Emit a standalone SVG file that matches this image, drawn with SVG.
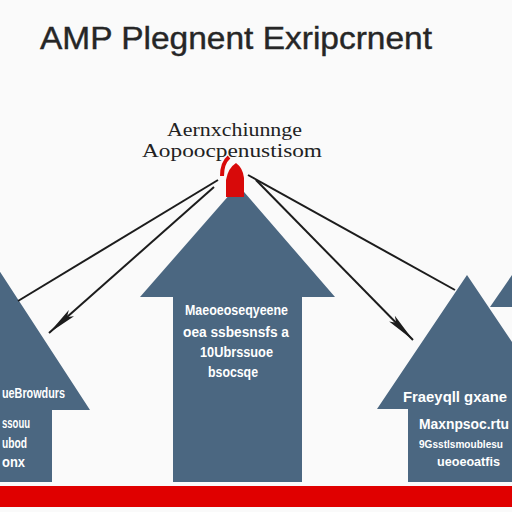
<svg xmlns="http://www.w3.org/2000/svg" width="512" height="512" viewBox="0 0 512 512">
<defs>
<style>
.house{fill:#4b6781}
.ht{fill:#ffffff;font-family:"Liberation Sans",Arial,sans-serif;font-weight:bold;font-size:14px}
.lbl{fill:#222222;font-family:"Liberation Serif","Times New Roman",serif;font-size:19px}
.title{fill:#262626;stroke:#262626;stroke-width:0.4;font-family:"Liberation Sans",Arial,sans-serif;font-size:31px}
.conn{stroke:#1c1c1c;stroke-width:2;fill:none}
</style>
<marker id="dart" viewBox="0 0 30 10" refX="30" refY="5" markerWidth="30" markerHeight="10" markerUnits="userSpaceOnUse" orient="auto">
<path d="M0,1 L6,5 L0,9 L30,5 Z" fill="#1c1c1c"/>
</marker>
</defs>
<rect width="512" height="512" fill="#fafafa"/>
<text class="title" x="40" y="49" textLength="392" lengthAdjust="spacingAndGlyphs">AMP Plegnent Exripcrnent</text>
<g id="label-top">
<text class="lbl" x="167" y="136" textLength="135" lengthAdjust="spacingAndGlyphs">Aernxchiunnge</text>
<text class="lbl" x="142" y="157" textLength="180" lengthAdjust="spacingAndGlyphs">Aopoocpenustisom</text>
</g>
<g id="house-far-right">
<polygon class="house" points="490,307 512,275 512,307"/>
</g>
<g id="house-left">
<polygon class="house" points="-90,410 -5,264 90,410 52,410 52,482 -60,482 -60,410"/>
<text class="ht" x="2" y="398" textLength="63" lengthAdjust="spacingAndGlyphs">ueBrowdurs</text>
<text class="ht" x="2" y="428" textLength="28" lengthAdjust="spacingAndGlyphs">ssouu</text>
<text class="ht" x="2" y="448" textLength="25" lengthAdjust="spacingAndGlyphs">ubod</text>
<text class="ht" x="2" y="467" textLength="23" lengthAdjust="spacingAndGlyphs">onx</text>
</g>
<g id="house-center">
<polygon class="house" points="140,297 238,185 335,297 302,297 302,482 173,482 173,297"/>
<text class="ht" x="185" y="315" textLength="103" lengthAdjust="spacingAndGlyphs">Maeoeoseqyeene</text>
<text class="ht" x="183" y="337" textLength="106" lengthAdjust="spacingAndGlyphs">oea ssbesnsfs a</text>
<text class="ht" x="200" y="357" textLength="73" lengthAdjust="spacingAndGlyphs">10Ubrssuoe</text>
<text class="ht" x="208" y="377" textLength="50" lengthAdjust="spacingAndGlyphs">bsocsqe</text>
</g>
<g id="house-right">
<polygon class="house" points="377,409 467,275 557,409 526,409 526,482 408,482 408,409"/>
<text class="ht" x="403" y="402" textLength="104" lengthAdjust="spacingAndGlyphs" style="font-size:15px">Fraeyqll gxane</text>
<text class="ht" x="419" y="429" textLength="90" lengthAdjust="spacingAndGlyphs">Maxnpsoc.rtu</text>
<text class="ht" x="419" y="448" textLength="84" lengthAdjust="spacingAndGlyphs" style="font-size:11px">9Gsstlsmoublesu</text>
<text class="ht" x="437" y="466" textLength="63" lengthAdjust="spacingAndGlyphs" style="font-size:12px">ueoeoatfis</text>
</g>
<g id="red-marker">
<path d="M226,197 L226,180 Q228,168 236,163 Q243,168 244,178 L244,197 Z" fill="#d80a0a"/>
<path d="M222,176 Q222,163 229,157" stroke="#d80a0a" stroke-width="4" fill="none"/>
</g>
<g id="connectors">
<line class="conn" x1="218" y1="180" x2="18" y2="301"/>
<line class="conn" x1="214" y1="187" x2="49" y2="333" marker-end="url(#dart)"/>
<line class="conn" x1="248" y1="175" x2="455" y2="290"/>
<line class="conn" x1="256" y1="180" x2="413" y2="340" marker-end="url(#dart)"/>
</g>
<rect x="0" y="486" width="512" height="21" fill="#e00000"/>
</svg>
